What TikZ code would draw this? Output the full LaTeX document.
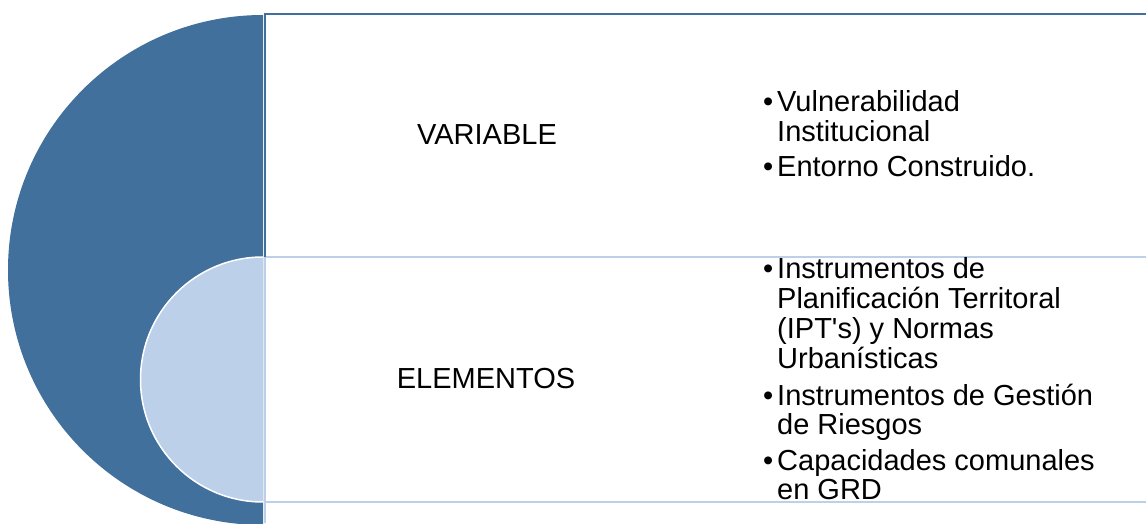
\documentclass[tikz,border=0pt]{standalone}
\usepackage{fontspec}
\setmainfont{Liberation Sans}[Ligatures=TeXOff]
\definecolor{darkb}{HTML}{41709C}
\definecolor{lightb}{HTML}{BCD0E9}
\begin{document}
\begin{tikzpicture}[x=1pt,y=1pt,
  lbl/.style={inner sep=0pt, anchor=base, font=\fontsize{29}{30}\selectfont},
  txt/.style={inner sep=0pt, anchor=base west, font=\fontsize{29}{30}\selectfont},
  bul/.style={inner sep=0pt, anchor=base west, font=\fontsize{29}{30}\selectfont},
  frameline/.style={line width=2pt}]
\useasboundingbox (0,0) rectangle (1146,523);
\fill[white] (0,0) rectangle (1146,523);
% big half disc
\begin{scope}
  \clip (0,0) rectangle (263,523);
  \fill[darkb] (263,253) circle (255);
\end{scope}
% small half disc
\begin{scope}
  \clip (0,0) rectangle (263,523);
  \filldraw[fill=lightb, draw=white, line width=1.5pt] (263,143.5) circle (122.5);
\end{scope}
% frames
\coordinate (tl) at (264.5,509);
\coordinate (tr) at (1146,509);
\coordinate (ml) at (264.5,266);
\coordinate (mr) at (1146,266);
\coordinate (bl) at (264.5,21);
\coordinate (br) at (1146,21);
\coordinate (bot) at (264.5,0);
\draw[lightb, frameline] (ml) -- (mr);
\draw[lightb, frameline] (bl) -- (br);
\draw[lightb, frameline] (bot) -- (ml);
\draw[darkb, frameline] (ml) -- (tl) -- (tr);
% labels
\node[lbl] (var) at (487,378) {VARIABLE};
\node[lbl] (ele) at (486,135) {ELEMENTOS};
% top bullets
\node[bul] (b1) at (763,411) {\textbullet};
\node[txt] (t1a) at (777,411) {Vulnerabilidad};
\node[txt] (t1b) at (777,381) {Institucional};
\node[bul] (b2) at (763,346) {\textbullet};
\node[txt] (t2) at (777,346) {Entorno Construido.};
% bottom bullets
\node[bul] (b3) at (763,244.7) {\textbullet};
\node[txt] (t3a) at (777,244.7) {Instrumentos de};
\node[txt] (t3b) at (777,214.7) {Planificación Territoral};
\node[txt] (t3c) at (777,184.7) {(IPT's) y Normas};
\node[txt] (t3d) at (777,154.7) {Urbanísticas};
\node[bul] (b4) at (763,118) {\textbullet};
\node[txt] (t4a) at (777,118) {Instrumentos de Gestión};
\node[txt] (t4b) at (777,89) {de Riesgos};
\node[bul] (b5) at (763,53) {\textbullet};
\node[txt] (t5a) at (777,53) {Capacidades comunales};
\node[txt] (t5b) at (777,23.7) {en GRD};
\end{tikzpicture}
\end{document}
